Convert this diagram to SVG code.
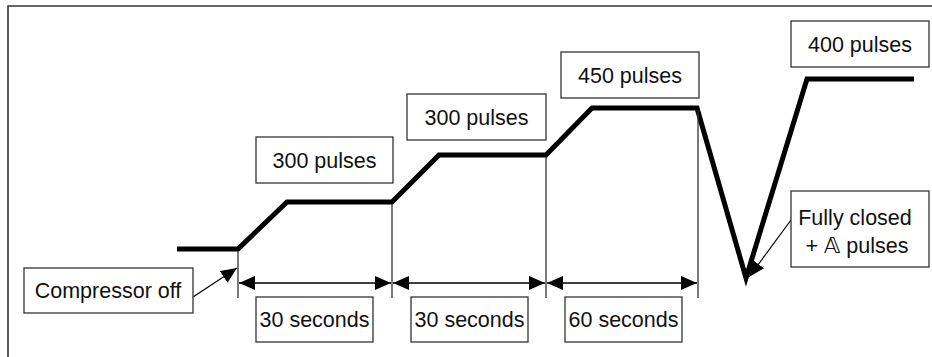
<svg xmlns="http://www.w3.org/2000/svg" width="932" height="357" viewBox="0 0 932 357">
<defs>
<style>
.box{fill:#fff;stroke:#333;stroke-width:1.3}
.t{font-family:"Liberation Sans",Arial,sans-serif;font-size:21.5px;fill:#111;text-anchor:middle}
.main{fill:none;stroke:#000;stroke-width:5;stroke-linejoin:miter}
.tick{stroke:#333;stroke-width:1.3;fill:none}
.dim{stroke:#000;stroke-width:1.5;fill:none;marker-start:url(#ah);marker-end:url(#ah)}
.lead{stroke:#000;stroke-width:1.2;fill:none;marker-end:url(#ah2)}
</style>
<marker id="ah" viewBox="0 0 16 14" refX="16" refY="7" markerWidth="16" markerHeight="14" markerUnits="userSpaceOnUse" orient="auto-start-reverse">
<path d="M0,0 L16,7 L0,14 Z" fill="#000"/>
</marker>
<marker id="ah2" viewBox="0 0 16 14" refX="16" refY="7" markerWidth="16" markerHeight="14" markerUnits="userSpaceOnUse" orient="auto">
<path d="M0,0 L16,7 L0,14 Z" fill="#000"/>
</marker>
</defs>
<rect width="932" height="357" fill="#fff"/>
<path d="M8,357 V6 H932" fill="none" stroke="#333" stroke-width="1.6"/>
<g id="connectors">
<polyline class="main" points="177,249 238,249 287,202 392,202 439,155 546,155 592,108 697,108 746,278 807,79 914,79"/>
<line class="tick" x1="238" y1="251" x2="238" y2="298"/>
<line class="tick" x1="392" y1="204" x2="392" y2="298"/>
<line class="tick" x1="546" y1="157" x2="546" y2="298"/>
<line class="tick" x1="698" y1="110" x2="698" y2="298"/>
<line class="dim" x1="239" y1="283" x2="391" y2="283"/>
<line class="dim" x1="393" y1="283" x2="545" y2="283"/>
<line class="dim" x1="547" y1="283" x2="697" y2="283"/>
<line class="lead" x1="193" y1="297" x2="237" y2="268"/>
<line class="lead" x1="791" y1="220" x2="749" y2="277"/>
</g>
<g id="n-compressor-off"><rect class="box" x="24" y="268" width="169" height="45"/><text class="t" x="108" y="298">Compressor off</text></g>
<g id="n-30s-1"><rect class="box" x="256" y="297" width="117" height="45"/><text class="t" x="314.5" y="327">30 seconds</text></g>
<g id="n-30s-2"><rect class="box" x="411" y="297" width="117" height="45"/><text class="t" x="469.5" y="327">30 seconds</text></g>
<g id="n-60s"><rect class="box" x="565" y="297" width="117" height="45"/><text class="t" x="623.5" y="327">60 seconds</text></g>
<g id="n-300p-1"><rect class="box" x="256" y="137" width="137" height="46"/><text class="t" x="324.5" y="168">300 pulses</text></g>
<g id="n-300p-2"><rect class="box" x="407" y="94" width="139" height="46"/><text class="t" x="476.5" y="125">300 pulses</text></g>
<g id="n-450p"><rect class="box" x="561" y="52" width="138" height="46"/><text class="t" x="630" y="83">450 pulses</text></g>
<g id="n-400p"><rect class="box" x="791" y="21" width="138" height="46"/><text class="t" x="860" y="52">400 pulses</text></g>
<g id="n-fully-closed"><rect class="box" x="791" y="191" width="138" height="76"/><text class="t" x="855" y="225">Fully closed</text><text class="t" x="857" y="253">+ <tspan font-family="DejaVu Sans, sans-serif" font-size="22">𝔸</tspan> pulses</text></g>
</svg>
